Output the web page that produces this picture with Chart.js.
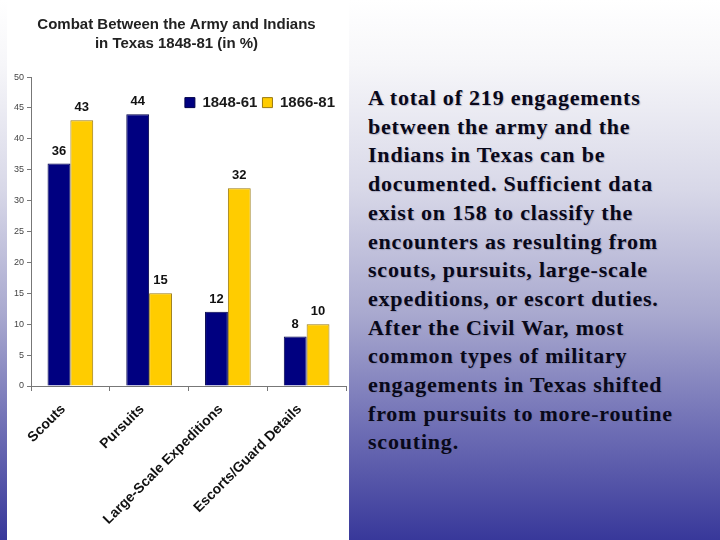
<!DOCTYPE html>
<html>
<head>
<meta charset="utf-8">
<script src="https://cdn.jsdelivr.net/npm/chart.js@4.4.1/dist/chart.umd.min.js"></script>
<style>
  html, body { margin: 0; padding: 0; }
  body {
    width: 720px; height: 540px; overflow: hidden; position: relative;
    background: linear-gradient(to bottom, #ffffff 0%, #f6f6f9 12%, #d8d8e8 35%, #a9a9cf 58%, #6d6db4 80%, #38389a 100%);
  }
  #panel { position: absolute; left: 7px; top: 0; width: 342px; height: 540px; background: #fff; }
  #note {
    position: absolute; left: 368px; top: 84px; width: 312px;
    font: bold 22px/28.7px "Liberation Serif", "Times New Roman", serif;
    letter-spacing: 0.8px; color: #08081a;
    text-shadow: 1px 1px 1px rgba(110, 110, 140, 0.4);
  }
</style>
</head>
<body>
<div id="panel"><canvas id="combatChart" width="342" height="540"></canvas></div>
<div id="note">A total of 219 engagements between the army and the Indians in Texas can be documented. Sufficient data exist on 158 to classify the encounters as resulting from scouts, pursuits, large-scale expeditions, or escort duties. After the Civil War, most common types of military engagements in Texas shifted from pursuits to more-routine scouting.</div>
<script>
  /* ---------- Data ---------- */
  const categories  = ["Scouts", "Pursuits", "Large-Scale Expeditions", "Escorts/Guard Details"];
  const seriesNames = ["1848-61", "1866-81"];
  const early       = [36, 44, 12, 8];   // 1848-61
  const late        = [43, 15, 32, 10];  // 1866-81
  const yTicks      = [0, 5, 10, 15, 20, 25, 30, 35, 40, 45, 50];

  const SANS = '"Liberation Sans", Arial, sans-serif';

  /* ---------- Value labels above the bars ---------- */
  const valueLabels = {
    id: "valueLabels",
    afterDatasetsDraw(chart) {
      const ctx = chart.ctx;
      ctx.save();
      ctx.font = `bold 13px ${SANS}`;
      ctx.fillStyle = "#111";
      ctx.textAlign = "center";
      ctx.textBaseline = "bottom";
      chart.data.datasets.forEach((ds, i) => {
        chart.getDatasetMeta(i).data.forEach((bar, j) => {
          ctx.fillText(ds.data[j], bar.x, bar.y - 6);
        });
      });
      ctx.restore();
    }
  };

  /* legend takes its row under the title, then gets pushed down into the plot */
  const legendNudge = {
    id: "legendNudge",
    afterLayout(chart) {
      const lg = chart.legend;
      lg.top += 43; lg.bottom += 43;
      lg.left -= 6; lg.right -= 6;
    }
  };

  new Chart(document.getElementById("combatChart"), {
    type: "bar",
    data: {
      labels: categories,
      datasets: [
        { label: seriesNames[0], data: early, backgroundColor: "#000080", borderColor: "#00004a", borderWidth: 1 },
        { label: seriesNames[1], data: late,  backgroundColor: "#ffcc00", borderColor: "#9a7a10", borderWidth: 1 }
      ]
    },
    options: {
      responsive: false,
      animation: false,
      layout: { padding: { left: 0, right: 3, top: 0, bottom: 0 } },
      datasets: { bar: { categoryPercentage: 0.58, barPercentage: 1.0 } },
      plugins: {
        title: {
          display: true,
          text: ["Combat Between the Army and Indians", "in Texas 1848-81 (in %)"],
          color: "#222",
          font: { family: SANS, size: 15, weight: "bold", lineHeight: 1.27 },
          padding: { top: 15, bottom: -6 }
        },
        legend: {
          position: "top",
          align: "end",
          labels: {
            color: "#1a1a1a",
            font: { family: SANS, size: 15, weight: "bold" },
            boxWidth: 10, boxHeight: 10, padding: 5
          }
        },
        tooltip: { enabled: false }
      },
      scales: {
        x: {
          grid: { offset: true, drawOnChartArea: false, color: "#777", tickLength: 5 },
          border: { color: "#777" },
          ticks: {
            color: "#111", maxRotation: 45, minRotation: 45, padding: 10, labelOffset: -7,
            font: { family: SANS, size: 14, weight: "bold" }
          },
          afterFit: s => { s.height = 154; }
        },
        y: {
          min: 0, max: 50,
          afterBuildTicks: s => { s.ticks = yTicks.map(v => ({ value: v })); },
          grid: { drawOnChartArea: false, color: "#777", tickLength: 4 },
          border: { color: "#777" },
          ticks: { color: "#444", padding: 3, font: { family: SANS, size: 9 } },
          afterFit: s => { s.width = 24; }
        }
      }
    },
    plugins: [valueLabels, legendNudge]
  });
</script>
</body>
</html>
